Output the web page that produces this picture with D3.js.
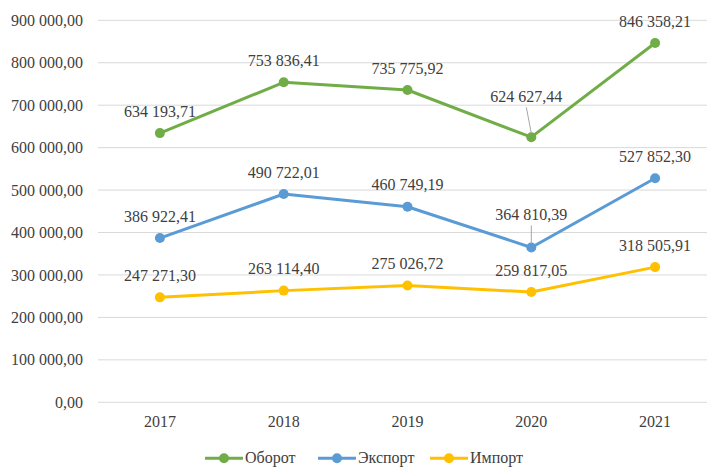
<!DOCTYPE html>
<html>
<head>
<meta charset="utf-8">
<script src="https://cdn.jsdelivr.net/npm/d3@7"></script>
<style>
  html, body { margin: 0; padding: 0; background: #fff; }
  svg { display: block; font-family: "Liberation Serif", "Times New Roman", serif; }
</style>
</head>
<body>
<svg id="chart" width="707" height="467"></svg>
<script>
const years = ["2017", "2018", "2019", "2020", "2021"];
const seriesNames = ["Оборот", "Экспорт", "Импорт"];
const turnover = [634193.71, 753836.41, 735775.92, 624627.44, 846358.21];
const exports_ = [386922.41, 490722.01, 460749.19, 364810.39, 527852.30];
const imports_ = [247271.30, 263114.40, 275026.72, 259817.05, 318505.91];
const yTicks = [0, 100000, 200000, 300000, 400000, 500000, 600000, 700000, 800000, 900000];
const colors = ["#70ad47", "#5b9bd5", "#ffc000"];

(function () {
const seriesValues = [turnover, exports_, imports_];
const labelAdjust = {
  "0-3": { dx: -5, dy: -35, leader: true },
  "1-3": { dx: 0, dy: -27, leader: true }
};

const svg = d3.select("#chart");
const pLeft = 98, pRight = 717, pTop = 20.3, pBottom = 402.3;

const x = d3.scaleBand().domain(years).range([pLeft, pRight]);
const y = d3.scaleLinear().domain([0, 900000]).range([pBottom, pTop]);

const fmt = v => {
  const parts = v.toFixed(2).split(".");
  const intPart = parts[0].replace(/\B(?=(\d{3})+(?!\d))/g, " ");
  return intPart + "," + parts[1];
};

svg.append("g").selectAll("line").data(yTicks).join("line")
  .attr("x1", pLeft).attr("x2", pRight)
  .attr("y1", d => y(d)).attr("y2", d => y(d))
  .attr("stroke", "#d9d9d9").attr("stroke-width", 1);

const yAxis = d3.axisLeft(y).tickValues(yTicks).tickFormat(fmt).tickSize(0).tickPadding(15);
const gy = svg.append("g").attr("transform", `translate(${pLeft},0)`).call(yAxis);
gy.select(".domain").remove();
gy.selectAll("text").attr("font-size", 16).attr("fill", "#404040")
  .attr("font-family", "Liberation Serif, Times New Roman, serif").attr("dy", "0.32em");

const xAxis = d3.axisBottom(x).tickSize(0).tickPadding(0);
const gx = svg.append("g").attr("transform", `translate(0,${pBottom})`).call(xAxis);
gx.select(".domain").remove();
gx.selectAll("text").attr("font-size", 16).attr("fill", "#404040")
  .attr("font-family", "Liberation Serif, Times New Roman, serif")
  .attr("dy", null).attr("y", 25);

const cx = d => x(d) + x.bandwidth() / 2;

seriesValues.forEach((vals, si) => {
  const pts = years.map((yr, i) => ({ yr, v: vals[i], i }));
  const line = d3.line().x(d => cx(d.yr)).y(d => y(d.v));
  svg.append("path").datum(pts)
    .attr("d", line).attr("fill", "none")
    .attr("stroke", colors[si]).attr("stroke-width", 3)
    .attr("stroke-linejoin", "round");
  svg.append("g").selectAll("circle").data(pts).join("circle")
    .attr("cx", d => cx(d.yr)).attr("cy", d => y(d.v)).attr("r", 5)
    .attr("fill", colors[si]);

  pts.forEach(d => {
    const adj = labelAdjust[si + "-" + d.i] || { dx: 0, dy: -16.5, leader: false };
    const px = cx(d.yr), py = y(d.v);
    if (adj.leader) {
      svg.append("line")
        .attr("x1", px + adj.dx).attr("y1", py + adj.dy + 5)
        .attr("x2", px).attr("y2", py - 4)
        .attr("stroke", "#a6a6a6").attr("stroke-width", 1);
    }
    svg.append("text")
      .attr("x", px + adj.dx).attr("y", py + adj.dy)
      .attr("text-anchor", "middle").attr("font-size", 16).attr("fill", "#404040")
      .text(fmt(d.v));
  });
});

const legendX = [205, 318, 430];
const legendY = 458.3;
seriesNames.forEach((name, i) => {
  const g = svg.append("g").attr("transform", `translate(${legendX[i]},${legendY})`);
  g.append("line").attr("x1", 0).attr("x2", 38).attr("y1", 0).attr("y2", 0)
    .attr("stroke", colors[i]).attr("stroke-width", 3);
  g.append("circle").attr("cx", 19).attr("cy", 0).attr("r", 5).attr("fill", colors[i]);
  g.append("text").attr("x", 40).attr("y", 4.5).attr("font-size", 16).attr("fill", "#404040").text(name);
});
})();
</script>
</body>
</html>
